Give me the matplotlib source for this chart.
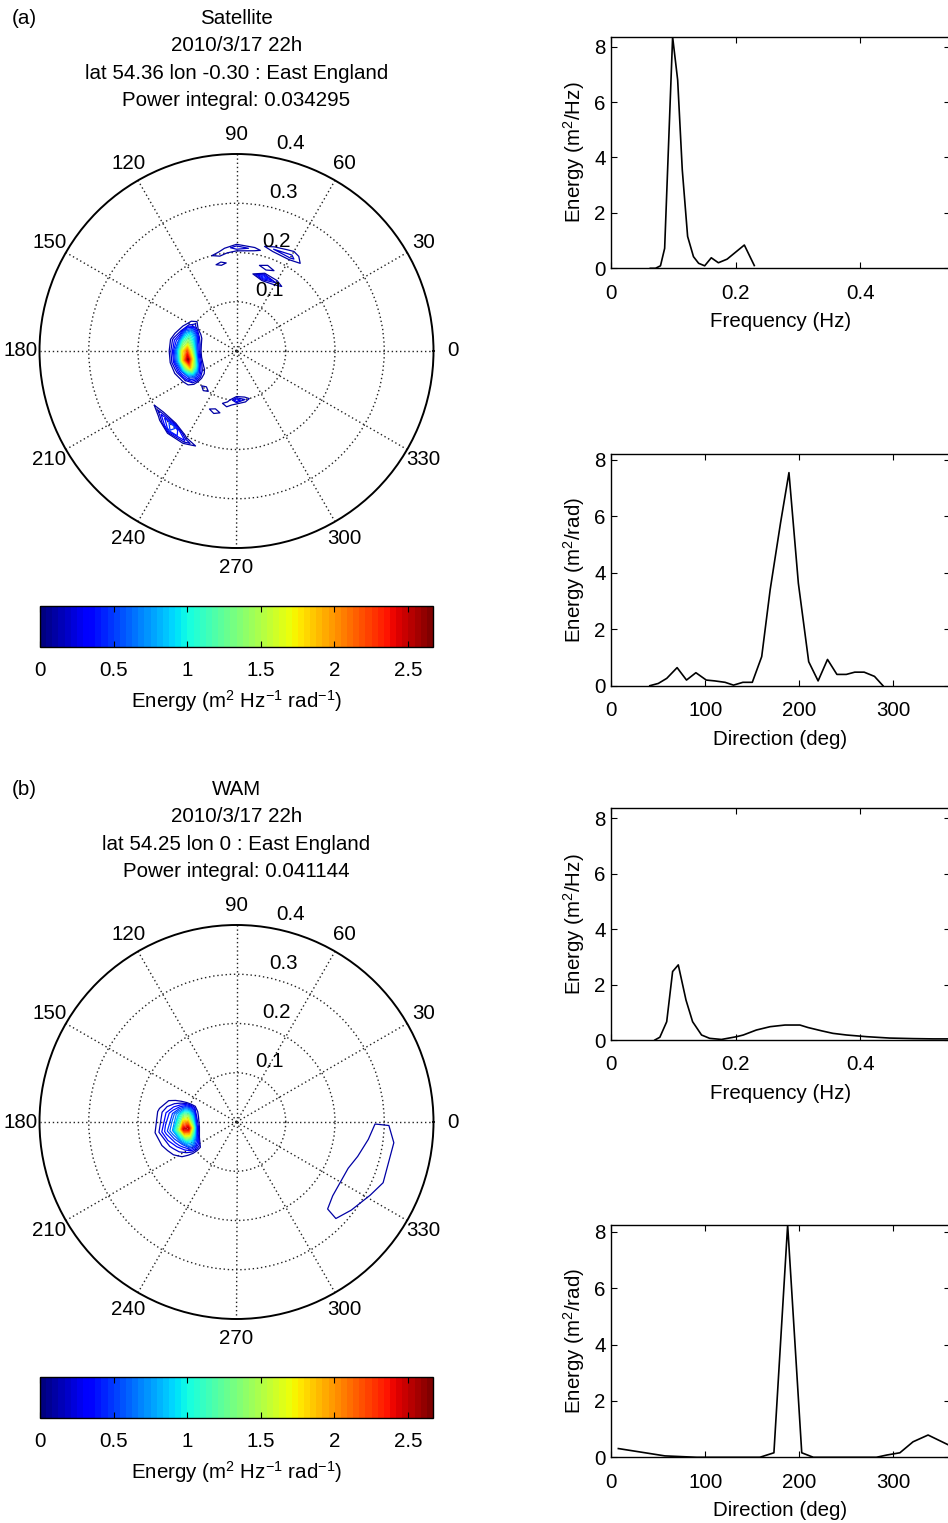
import numpy as np
import matplotlib
matplotlib.use("Agg")
import matplotlib.pyplot as plt
from matplotlib.colors import Normalize
from matplotlib.cm import ScalarMappable
from matplotlib.ticker import FormatStrFormatter
from matplotlib.transforms import ScaledTranslation

plt.rcParams['font.family'] = ['Liberation Sans', 'DejaVu Sans']
plt.rcParams['font.size'] = 14.8
plt.rcParams['mathtext.default'] = 'regular'

# ---- 1D spectra ----
sat_freq = [0.0627, 0.071, 0.079, 0.0857, 0.0985, 0.1066, 0.114, 0.1226, 0.132,
            0.1403, 0.15, 0.1606, 0.172, 0.186, 0.2137, 0.2297]
sat_freq_energy = [0.0, 0.0, 0.09, 0.72, 8.35, 6.8, 3.56, 1.15, 0.42,
                   0.18, 0.09, 0.38, 0.2, 0.33, 0.84, 0.1]

sat_dir = [41, 50, 59, 70, 80, 90, 101, 110, 121, 130, 140, 150, 160, 169, 180,
           189, 199, 210, 220, 230, 240, 250, 259, 269, 280, 289]
sat_dir_energy = [0.0, 0.08, 0.26, 0.64, 0.2, 0.46, 0.2, 0.17, 0.12, 0.02, 0.12,
                  0.12, 1.03, 3.4, 5.76, 7.55, 3.63, 0.85, 0.17, 0.93, 0.4, 0.4,
                  0.48, 0.48, 0.33, 0.0]

wam_freq = [0.070, 0.078, 0.089, 0.0985, 0.1076, 0.12, 0.1306, 0.145, 0.158, 0.177,
            0.2013, 0.212, 0.233, 0.255, 0.279, 0.303, 0.316, 0.338, 0.356, 0.378,
            0.41, 0.447, 0.485, 0.517, 0.545]
wam_freq_energy = [0.0, 0.1, 0.66, 2.47, 2.71, 1.44, 0.66, 0.18, 0.06, 0.02,
                   0.12, 0.18, 0.36, 0.48, 0.54, 0.54, 0.45, 0.33, 0.24, 0.18,
                   0.12, 0.07, 0.05, 0.04, 0.04]

wam_dir = [7.5, 57, 91, 158, 173, 187.6, 202.6, 215, 282, 293, 307, 321, 337, 358]
wam_dir_energy = [0.31, 0.05, 0.0, 0.0, 0.16, 8.24, 0.16, 0.0, 0.0, 0.08, 0.16,
                  0.55, 0.79, 0.45]

# ---- 2D spectra (non-zero cells) ----
sat_grid_dirs = np.arange(0, 370, 10)
sat_grid_freqs = np.round(np.arange(0.05, 0.255, 0.01), 2)
sat_cell_dir = [150, 150, 150,
                160, 160, 160, 160, 160,
                170, 170, 170, 170, 170, 170,
                180, 180, 180, 180, 180, 180,
                190, 190, 190, 190, 190, 190,
                200, 200, 200, 200, 200, 200,
                210, 210, 210, 210, 210,
                100, 90, 80, 70, 60, 60, 100, 70, 70, 60,
                230, 270, 280, 260, 250,
                230, 230, 220, 240]
sat_cell_freq = [0.09, 0.10, 0.11,
                 0.08, 0.09, 0.10, 0.11, 0.12,
                 0.08, 0.09, 0.10, 0.11, 0.12, 0.13,
                 0.08, 0.09, 0.10, 0.11, 0.12, 0.13,
                 0.08, 0.09, 0.10, 0.11, 0.12, 0.13,
                 0.08, 0.09, 0.10, 0.11, 0.12, 0.13,
                 0.08, 0.09, 0.10, 0.11, 0.12,
                 0.20, 0.21, 0.21, 0.22, 0.22, 0.23, 0.18, 0.18, 0.16, 0.16,
                 0.10, 0.10, 0.10, 0.11, 0.13,
                 0.20, 0.21, 0.20, 0.21]
sat_cell_energy = [0.1, 0.3, 0.15,
                   0.2, 0.7, 1.0, 0.7, 0.2,
                   0.4, 1.1, 1.5, 1.2, 0.5, 0.25,
                   0.5, 1.5, 2.2, 1.7, 0.8, 0.3,
                   0.5, 1.7, 2.65, 1.9, 0.8, 0.3,
                   0.4, 1.3, 1.9, 1.3, 0.5, 0.15,
                   0.2, 0.5, 0.7, 0.5, 0.2,
                   0.18, 0.3, 0.15, 0.2, 0.25, 0.15, 0.15, 0.2, 0.5, 0.2,
                   0.2, 0.4, 0.2, 0.2, 0.2,
                   0.6, 0.5, 0.3, 0.3]

wam_grid_dirs = np.arange(7.5, 375, 15)
wam_grid_freqs = [0.0418, 0.046, 0.0506, 0.0556, 0.0612, 0.0673, 0.0741, 0.0815,
                  0.0896, 0.0986, 0.1085, 0.1193, 0.1312, 0.1443, 0.1588, 0.1747,
                  0.1922, 0.2114, 0.2325, 0.2558, 0.2813, 0.3095, 0.3404, 0.3745,
                  0.4119]
wam_cell_dir = [172.5] * 8 + [187.5] * 8 + [202.5] * 8 + \
               [322.5, 322.5, 337.5, 337.5, 337.5, 352.5, 352.5]
wam_cell_freq = [0.0815, 0.0896, 0.0986, 0.1085, 0.1193, 0.1312, 0.1443, 0.1588] * 3 + \
                [0.2558, 0.2813, 0.2558, 0.2813, 0.3095, 0.2813, 0.3095]
wam_cell_energy = [0.2, 0.9, 1.4, 1.3, 0.8, 0.5, 0.3, 0.12,
                   0.4, 1.6, 2.6, 2.5, 1.4, 0.7, 0.45, 0.2,
                   0.1, 0.6, 1.0, 0.9, 0.5, 0.3, 0.15, 0.05,
                   0.17, 0.18, 0.18, 0.19, 0.17, 0.18, 0.17]

E_MAX = 2.67
levels = np.arange(0.1, 2.65, 0.1)
jet = plt.get_cmap('jet', 64)


def build_grid(dirs, freqs, cd, cf, ce):
    z = np.zeros((len(freqs), len(dirs)))
    for d, f, e in zip(cd, cf, ce):
        i = int(np.argmin(np.abs(np.asarray(freqs) - f)))
        j = int(np.argmin(np.abs(dirs - d)))
        z[i, j] = e
    z[:, -1] = z[:, 0]  # wrap 360
    return z


fig = plt.figure(figsize=(9.48, 15.23), dpi=100)
W, H = 948.0, 1523.0


def box(x0, y0, x1, y1):
    return [x0 / W, 1 - y1 / H, (x1 - x0) / W, (y1 - y0) / H]


def polar_panel(yc, dirs, freqs, z, title_lines, tag):
    ax = fig.add_axes(box(39.5, yc - 197, 433.5, yc + 197), projection='polar')
    th, rr = np.meshgrid(np.deg2rad(dirs), freqs)
    ax.contour(th, rr, z, levels=levels, cmap=jet, norm=Normalize(0, E_MAX),
               linewidths=0.9)
    ax.set_ylim(0, 0.4)
    ax.set_rticks([0.1, 0.2, 0.3])
    ax.set_yticklabels([])
    ax.set_thetagrids(np.arange(0, 360, 30), labels=[''] * 12)
    ax.grid(color='#222222', linestyle=(0, (1, 2)), linewidth=1.0)
    ax.spines['polar'].set_linewidth(1.4)
    for a in range(0, 360, 30):
        ax.text(np.deg2rad(a), 0.439, str(a), ha='center', va='center', clip_on=False)
    off = ScaledTranslation(12 / 100, 0, fig.dpi_scale_trans)
    for r in [0.1, 0.2, 0.3, 0.4]:
        ax.text(np.deg2rad(82), r + 0.005, '%g' % r, ha='left', va='bottom',
                transform=ax.transData + off, clip_on=False)
    ty = yc - 333
    for k, line in enumerate(title_lines):
        fig.text(236.5 / W, 1 - (ty + 27.6 * k) / H, line, ha='center', va='center')
    fig.text(12 / W, 1 - ty / H, tag, ha='left', va='center')

    cax = fig.add_axes(box(40, yc + 255, 433, yc + 296))
    sm = ScalarMappable(norm=Normalize(0, E_MAX), cmap=jet)
    cb = fig.colorbar(sm, cax=cax, orientation='horizontal')
    cb.set_ticks([0, 0.5, 1, 1.5, 2, 2.5])
    cb.formatter = FormatStrFormatter('%g')
    cb.update_ticks()
    cax.tick_params(direction='in', top=True, bottom=True, length=4, pad=10)
    cb.outline.set_linewidth(1.0)
    cb.set_label('Energy (m$^2$ Hz$^{-1}$ rad$^{-1}$)', labelpad=6)


def line_panel(y_top, y_bot, x, y, ymax, xmax, xticks, xlabel, ylabel):
    ax = fig.add_axes(box(611.3, y_top, 949.7, y_bot))
    ax.plot(x, y, color='black', linewidth=1.2)
    ax.set_xlim(0, xmax)
    ax.set_ylim(0, ymax)
    ax.set_xticks(xticks)
    ax.xaxis.set_major_formatter(FormatStrFormatter('%g'))
    ax.set_yticks([0, 2, 4, 6, 8])
    ax.tick_params(axis='x', direction='in', top=True, length=4, width=0.8, pad=11)
    ax.tick_params(axis='y', direction='in', right=True, length=4, width=0.8, pad=4)
    for s in ax.spines.values():
        s.set_linewidth(1.0)
    ax.set_xlabel(xlabel, labelpad=7)
    ax.set_ylabel(ylabel, labelpad=5)


z_sat = build_grid(sat_grid_dirs, sat_grid_freqs, sat_cell_dir, sat_cell_freq, sat_cell_energy)
z_wam = build_grid(wam_grid_dirs - 7.5, wam_grid_freqs, [d - 7.5 for d in wam_cell_dir],
                   wam_cell_freq, wam_cell_energy)

polar_panel(351, sat_grid_dirs, sat_grid_freqs, z_sat,
            ['Satellite', '2010/3/17 22h', 'lat 54.36 lon -0.30 : East England',
             'Power integral: 0.034295'], '(a)')
polar_panel(1122, wam_grid_dirs, wam_grid_freqs, z_wam,
            ['WAM', '2010/3/17 22h', 'lat 54.25 lon 0 : East England',
             'Power integral: 0.041144'], '(b)')

line_panel(37, 268.3, sat_freq, sat_freq_energy, 8.35, 0.5436,
           [0, 0.2, 0.4], 'Frequency (Hz)', 'Energy (m$^2$/Hz)')
line_panel(454, 685.7, sat_dir, sat_dir_energy, 8.21, 360,
           [0, 100, 200, 300], 'Direction (deg)', 'Energy (m$^2$/rad)')
line_panel(808.3, 1040, wam_freq, wam_freq_energy, 8.36, 0.5436,
           [0, 0.2, 0.4], 'Frequency (Hz)', 'Energy (m$^2$/Hz)')
line_panel(1224.7, 1457.3, wam_dir, wam_dir_energy, 8.25, 360,
           [0, 100, 200, 300], 'Direction (deg)', 'Energy (m$^2$/rad)')

fig.savefig('out.png', dpi=100)
